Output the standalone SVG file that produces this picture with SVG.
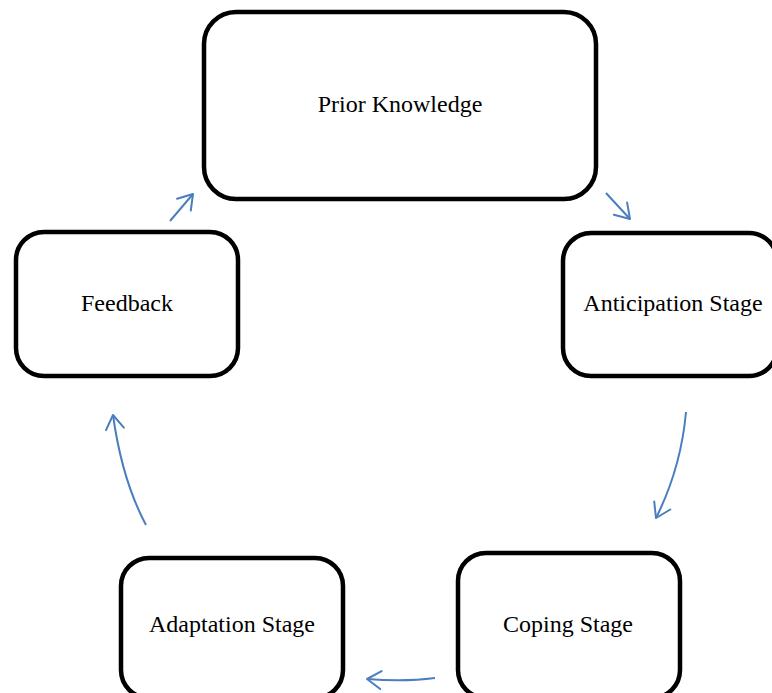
<svg xmlns="http://www.w3.org/2000/svg" width="772" height="693" viewBox="0 0 772 693">
<style>
.box{fill:#fff;stroke:#000;stroke-width:4.5}
.lbl{font-family:"Liberation Serif","Times New Roman",serif;font-size:24px;fill:#000;text-anchor:middle;dominant-baseline:central}
.conn{fill:none;stroke:#4a7ebf;stroke-width:2;marker-end:url(#ah)}
</style>
<defs>
<marker id="ah" markerUnits="userSpaceOnUse" markerWidth="30" markerHeight="30" viewBox="-20 -15 25 30" refX="0" refY="0" orient="auto">
<path d="M-14,-9 L0,0 L-14,9" fill="none" stroke="#4a7ebf" stroke-width="2" stroke-linecap="round" stroke-linejoin="round"/>
</marker>
</defs>
<rect width="772" height="693" fill="#fff"/>
<g id="prior"><rect class="box" x="204" y="12" width="392" height="187" rx="32"/><text class="lbl" x="400" y="104">Prior Knowledge</text></g>
<g id="anticipation"><rect class="box" x="563" y="233" width="214" height="143" rx="28"/><text class="lbl" x="673" y="303">Anticipation Stage</text></g>
<g id="coping"><rect class="box" x="458" y="553" width="222" height="145" rx="28"/><text class="lbl" x="568" y="624">Coping Stage</text></g>
<g id="adaptation"><rect class="box" x="121" y="558" width="222" height="140" rx="28"/><text class="lbl" x="232" y="624">Adaptation Stage</text></g>
<g id="feedback"><rect class="box" x="16" y="232" width="222" height="144" rx="28"/><text class="lbl" x="127" y="303">Feedback</text></g>
<g id="connectors">
<path class="conn" d="M170,221 L193,194"/>
<path class="conn" d="M606,193 L630,219"/>
<path class="conn" d="M686,412 Q681,468 656,518"/>
<path class="conn" d="M435,678 Q405,682 367,679"/>
<path class="conn" d="M146,525 Q122,480 113,415"/>
</g>
</svg>
